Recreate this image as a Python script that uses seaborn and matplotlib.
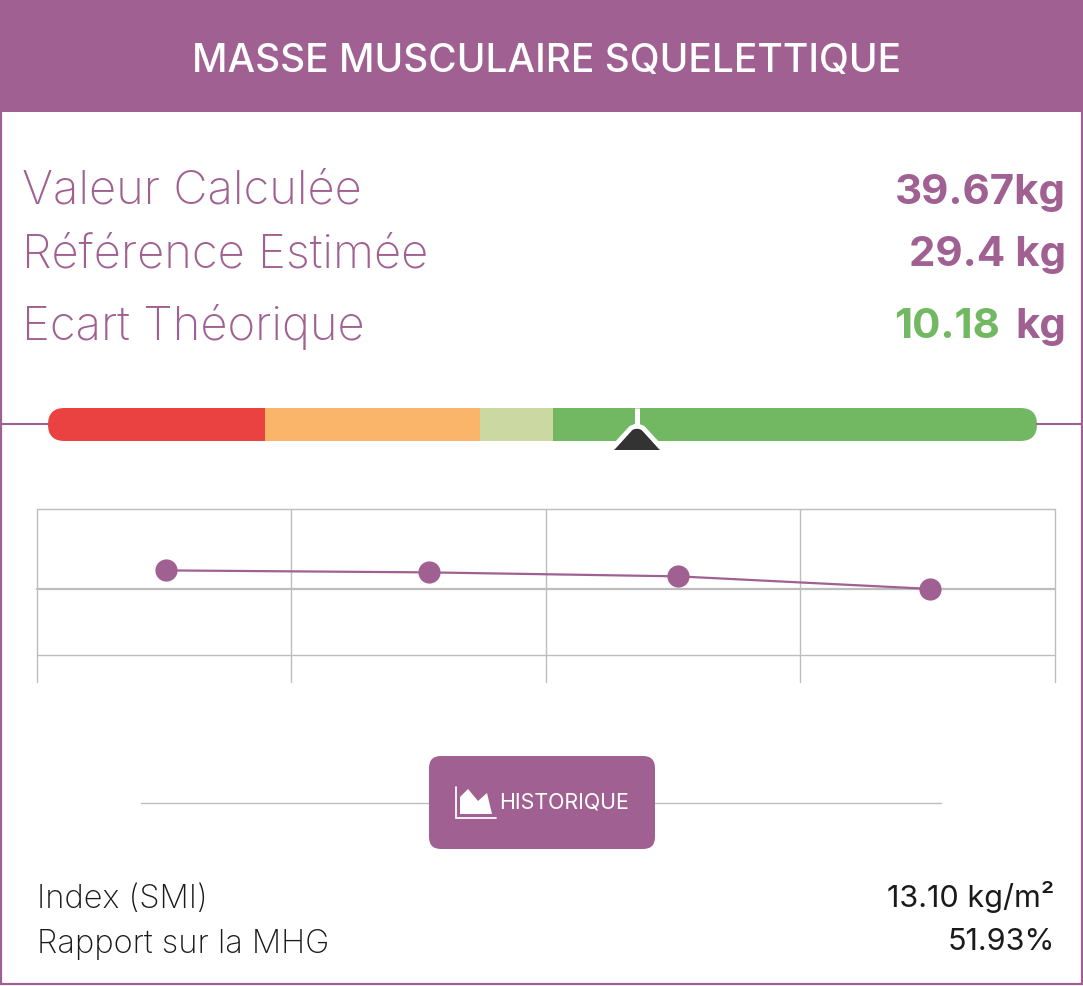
import matplotlib
matplotlib.use("Agg")
import matplotlib.pyplot as plt
import seaborn as sns
import pandas as pd
from matplotlib.patches import Rectangle, FancyBboxPatch, Polygon

PURPLE = "#A06092"
GREEN = "#72B863"
GRID = "#BDBDBD"
FONT = "Inter"

title = "MASSE MUSCULAIRE SQUELETTIQUE"
row_labels = ["Valeur Calculée", "Référence Estimée", "Ecart Théorique"]
row_values = ["39.67kg", "29.4 kg", "10.18"]
row_value_colors = [PURPLE, PURPLE, GREEN]
last_unit = "kg"
foot_labels = ["Index (SMI)", "Rapport sur la MHG"]
foot_values = ["13.10 kg/m²", "51.93%"]
button_label = "HISTORIQUE"

gauge_edges = [0, 217, 432, 505, 989]
gauge_colors = ["#EA4240", "#FAB56B", "#CBD8A2", GREEN]
gauge_marker = 589

hist_x = [0.51, 1.54, 2.52, 3.51]
hist_y = [42.8, 42.5, 41.9, 40.0]
hist_xticks = [0, 1, 2, 3, 4]
hist_yticks = [30, 40, 52.1]

sns.set_theme(style="white")
plt.rcParams["font.family"] = [FONT, "DejaVu Sans"]

W, H = 1083, 986
fig = plt.figure(figsize=(W / 100, H / 100), dpi=100, facecolor="white")

def axes_px(x0, y0, x1, y1, **kw):
    return fig.add_axes([x0 / W, 1 - y1 / H, (x1 - x0) / W, (y1 - y0) / H], **kw)

# page overlay in pixels
bg = axes_px(0, 0, W, H)
bg.set_xlim(0, W)
bg.set_ylim(H, 0)
bg.axis("off")
bg.add_patch(Rectangle((1, 1), W - 2.5, H - 3, fc="none", ec=PURPLE, lw=1.6))
bg.add_patch(Rectangle((0, 0), W, 111.5, fc=PURPLE, ec="none"))
bg.text(547, 62, title, color="white", fontsize=28, fontweight="medium", ha="center", va="center")

for y, lab, val, col in zip([192, 255, 327], row_labels, row_values, row_value_colors):
    bg.text(22, y, lab, color=PURPLE, fontsize=34, fontweight="light", ha="left", va="center")
    bg.text(1066 if col != GREEN else 1000, y + 0.5, val, color=col, fontsize=30.3, fontweight="bold", ha="right", va="center")
bg.text(1066, 327.5, last_unit, color=PURPLE, fontsize=30.3, fontweight="bold", ha="right", va="center")

bg.plot([0, 48], [424, 424], color=PURPLE, lw=1.5)
bg.plot([1037, W], [424, 424], color=PURPLE, lw=1.5)

# gauge
gx = 48
gy0, gy1 = 408, 441
clip = FancyBboxPatch((gx, gy0), 989, gy1 - gy0, boxstyle="round,pad=0,rounding_size=16.5",
                      fc="none", ec="none", mutation_aspect=1)
bg.add_patch(clip)
for a, b, c in zip(gauge_edges[:-1], gauge_edges[1:], gauge_colors):
    bar = bg.barh((gy0 + gy1) / 2, b - a, left=gx + a, height=gy1 - gy0, color=c, lw=0)[0]
    bar.set_clip_path(clip)

mx = gx + gauge_marker
bg.plot([mx, mx], [gy0, 428], color="white", lw=3.6, solid_capstyle="butt", zorder=5)
bg.add_patch(Polygon([[mx - 23, 450], [mx - 4, 429], [mx + 4, 429], [mx + 23, 450]], closed=True,
                     fc="#333333", ec="none", zorder=5))
bg.plot([mx - 23.5, mx - 6, mx, mx + 6, mx + 23.5], [447, 428, 425.5, 428, 447], color="white", lw=3.4,
        solid_capstyle="butt", solid_joinstyle="round", zorder=6)

# button
bg.plot([141, 941], [803, 803], color=GRID, lw=1)
bg.add_patch(FancyBboxPatch((429, 756), 226, 93, boxstyle="round,pad=0,rounding_size=12", fc=PURPLE, ec="none", zorder=3))
bg.plot([456, 456, 496], [787, 818, 818], color="white", lw=1.3, zorder=4, solid_joinstyle="miter")
bg.add_patch(Polygon([[460, 814], [460, 797], [468, 789], [478, 801], [487, 793], [492, 814]], closed=True,
                     fc="white", ec="none", zorder=4))
bg.text(564, 802.5, button_label, color="white", fontsize=15.4, ha="center", va="center", zorder=4)

for y, lab, val in zip([899, 944], foot_labels, foot_values):
    bg.text(37, y, lab, color="#1A1A1A", fontsize=23.5, fontweight="light", ha="left", va="center")
    bg.text(1054.5, y - 2, val, color="#1A1A1A", fontsize=22, ha="right", va="center")

# history chart
ax = axes_px(36.7, 509, 1054.7, 682)
ax.patch.set_alpha(0)
df = pd.DataFrame({"x": hist_x, "y": hist_y})
sns.lineplot(data=df, x="x", y="y", ax=ax, color=PURPLE, lw=1.6, marker="o", markersize=16,
             markeredgewidth=0, markerfacecolor=PURPLE, clip_on=False, zorder=4, errorbar=None)
ax.set_xlim(0, 4)
ax.set_ylim(25.9, 52.1)
ax.set_xticks(hist_xticks)
ax.set_yticks(hist_yticks)
ax.set_xticklabels([])
ax.set_yticklabels([])
ax.set_xlabel("")
ax.set_ylabel("")
ax.tick_params(length=0)
ax.grid(True, color=GRID, lw=1)
for g in ax.get_xgridlines() + ax.get_ygridlines():
    g.set_clip_on(False)
for side in ["bottom", "right", "left", "top"]:
    ax.spines[side].set_visible(False)
ax.get_ygridlines()[1].set_linewidth(1.6)
ax.set_axisbelow(True)

fig.savefig("out.png", dpi=100)
